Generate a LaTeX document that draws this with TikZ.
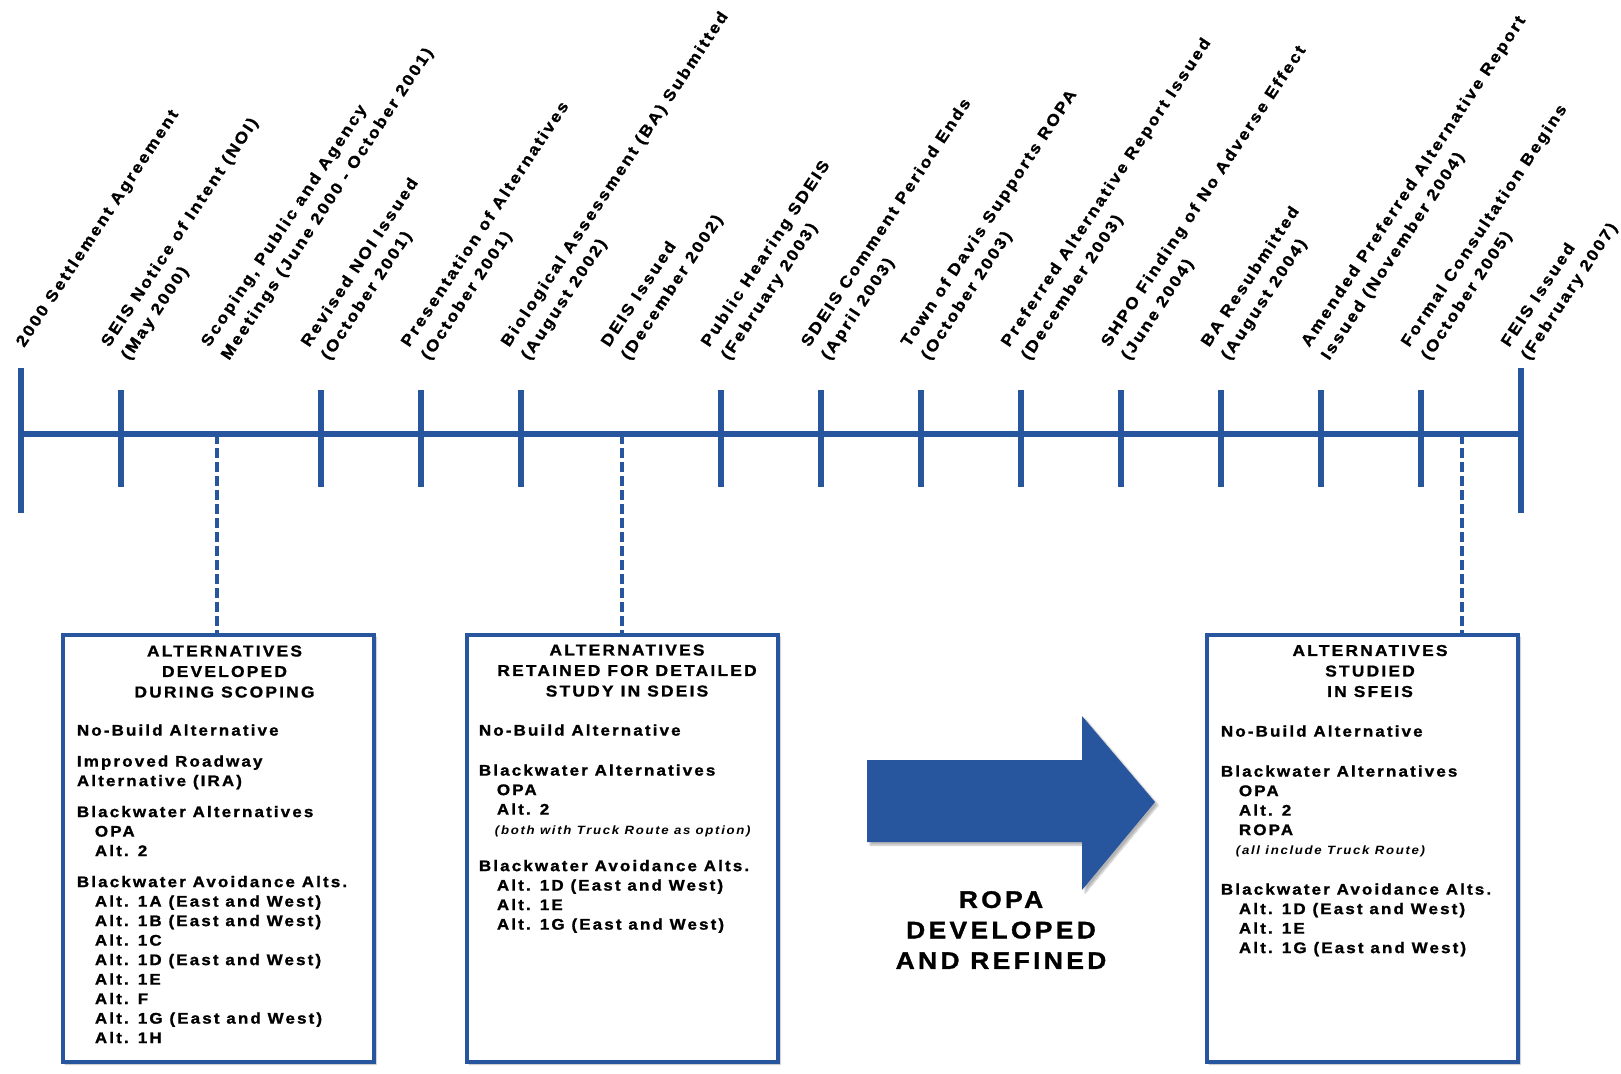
\documentclass[tikz,border=0pt]{standalone}
\usepackage{fontspec}
\usepackage{tikz}
\usetikzlibrary{positioning}
\usetikzlibrary{shadows.blur}
\newfontfamily\tlfont{Liberation Sans}[FakeStretch=1.1,LetterSpace=14,BoldFeatures={FakeBold=1.2}]
\definecolor{tlblue}{RGB}{40,86,158}
\newcommand{\altindent}{\hspace*{18pt}}

\begin{document}
\begin{tikzpicture}[x=1pt,y=1pt,
  axisline/.style={tlblue, line width=6pt},
  eventtick/.style={tlblue, line width=5.5pt},
  droplink/.style={tlblue, line width=4pt, dash pattern=on 10pt off 4pt},
  eventlabel/.style={anchor=south west, rotate=56.5, align=left, inner sep=0pt,
    font=\tlfont\bfseries\fontsize{16}{24}\selectfont},
  altbox/.style={draw=tlblue, line width=4.5pt, fill=white, inner sep=0pt,
    minimum width=311pt, minimum height=427pt,
    blur shadow={shadow blur steps=6, shadow xshift=2pt, shadow yshift=-2pt, shadow opacity=30}},
  alttitle/.style={align=center, inner sep=0pt, font=\tlfont\bfseries\fontsize{15.8}{20.5}\selectfont},
  altbody/.style={align=left, inner sep=0pt, font=\tlfont\bfseries\fontsize{15.4}{19.5}\selectfont},
  arrowtext/.style={align=center, inner sep=0pt, font=\tlfont\bfseries\fontsize{24}{30.5}\selectfont},
]
\useasboundingbox (0,0) rectangle (1621,-1073);

% timeline
\coordinate (tlstart) at (21,-434);
\coordinate (tlend) at (1521,-434);
\draw[axisline] (tlstart) -- (tlend);

\foreach \n in {1,3,4,5,7,8,9,10,11,12,13,14}
  \draw[eventtick] (21+100*\n,-390) -- (21+100*\n,-487);
\foreach \n in {0,15}
  \draw[eventtick] (21+100*\n,-368) -- (21+100*\n,-513);

\node[eventlabel] (ev0) at (27,-350) {2000 Settlement Agreement};
\foreach \n/\lbl in {
  1/{SEIS Notice of Intent (NOI)\\(May 2000)},
  2/{Scoping, Public and Agency\\Meetings (June 2000 - October 2001)},
  3/{Revised NOI Issued\\(October 2001)},
  4/{Presentation of Alternatives\\(October 2001)},
  5/{Biological Assessment (BA) Submitted\\(August 2002)},
  6/{DEIS Issued\\(December 2002)},
  7/{Public Hearing SDEIS\\(February 2003)},
  8/{SDEIS Comment Period Ends\\(April 2003)},
  9/{Town of Davis Supports ROPA\\(October 2003)},
  10/{Preferred Alternative Report Issued\\(December 2003)},
  11/{SHPO Finding of No Adverse Effect\\(June 2004)},
  12/{BA Resubmitted\\(August 2004)},
  13/{Amended Preferred Alternative Report\\Issued (November 2004)},
  14/{Formal Consultation Begins\\(October 2005)},
  15/{FEIS Issued\\(February 2007)}}
  \node[eventlabel] (ev\n) at (32+100*\n,-363) {\lbl};

% the three boxes
\node[altbox] (scoping) at (218.5,-848.5) {};
\node[altbox] (sdeis) at (622.5,-848.5) {};
\node[altbox] (sfeis) at (1362.5,-848.5) {};

\coordinate (dscoping) at (217,-434);
\coordinate (dsdeis) at (622,-434);
\coordinate (dsfeis) at (1462,-434);
\draw[droplink] (dscoping) -- (dscoping |- scoping.north);
\draw[droplink] (dsdeis) -- (dsdeis |- sdeis.north);
\draw[droplink] (dsfeis) -- (dsfeis |- sfeis.north);

\node[alttitle, below=12.5pt of scoping.north, xshift=6pt] (scopingtitle) {ALTERNATIVES\\DEVELOPED\\DURING SCOPING};
\node[alttitle, below=11.5pt of sdeis.north, xshift=4.5pt] (sdeistitle) {ALTERNATIVES\\RETAINED FOR DETAILED\\STUDY IN SDEIS};
\node[alttitle, below=12pt of sfeis.north, xshift=7.5pt] (sfeistitle) {ALTERNATIVES\\STUDIED\\IN SFEIS};

\node[altbody, below right=91.5pt and 16pt of scoping.north west] (scopinglist) {No-Build Alternative\\[11.5pt]
Improved Roadway\\
Alternative (IRA)\\[11.5pt]
Blackwater Alternatives\\
\altindent OPA\\
\altindent Alt. 2\\[11.5pt]
Blackwater Avoidance Alts.\\
\altindent Alt. 1A (East and West)\\
\altindent Alt. 1B (East and West)\\
\altindent Alt. 1C\\
\altindent Alt. 1D (East and West)\\
\altindent Alt. 1E\\
\altindent Alt. F\\
\altindent Alt. 1G (East and West)\\
\altindent Alt. 1H};

\node[altbody, below right=91.5pt and 14pt of sdeis.north west] (sdeislist) {No-Build Alternative\\[20.5pt]
Blackwater Alternatives\\
\altindent OPA\\
\altindent Alt. 2\\
\hspace*{16pt}{\itshape\fontsize{12}{19.5}\selectfont (both with Truck Route as option)}\\[17.5pt]
Blackwater Avoidance Alts.\\
\altindent Alt. 1D (East and West)\\
\altindent Alt. 1E\\
\altindent Alt. 1G (East and West)};

\node[altbody, below right=92.5pt and 16pt of sfeis.north west] (sfeislist) {No-Build Alternative\\[20.5pt]
Blackwater Alternatives\\
\altindent OPA\\
\altindent Alt. 2\\
\altindent ROPA\\
\hspace*{15pt}{\itshape\fontsize{12}{19.5}\selectfont (all include Truck Route)}\\[20.5pt]
Blackwater Avoidance Alts.\\
\altindent Alt. 1D (East and West)\\
\altindent Alt. 1E\\
\altindent Alt. 1G (East and West)};

% big arrow
\fill[tlblue, blur shadow={shadow blur steps=6, shadow xshift=3pt, shadow yshift=-3pt, shadow opacity=30}]
  (867,-760) -- (1082,-760) -- (1082,-716) -- (1155,-802) -- (1082,-890) -- (1082,-842) -- (867,-842) -- cycle;
\node[arrowtext] (ropa) at (1001,-930) {ROPA\\DEVELOPED\\AND REFINED};

\end{tikzpicture}
\end{document}
